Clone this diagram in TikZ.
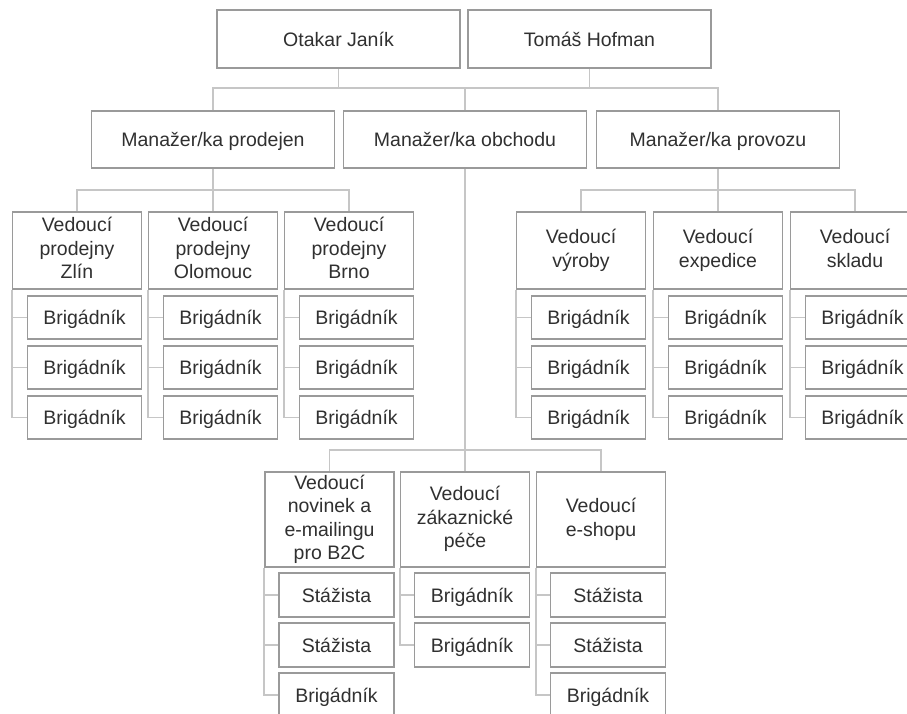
\documentclass[tikz,border=0pt]{standalone}
\usepackage{fontspec}
\setmainfont{Liberation Sans}
\usepackage{tikz}
\definecolor{ramecek}{HTML}{9A9A9A}
\definecolor{spoj}{HTML}{C6C6C6}
\definecolor{pismo}{HTML}{303030}

\begin{document}
\begin{tikzpicture}[x=1pt, y=-1pt,
    box/.style={draw=ramecek, line width=1.8pt, fill=white, inner sep=0pt,
      text=pismo, align=center, font=\fontsize{19.5}{23.5}\selectfont,
      execute at begin node={\rule{0pt}{18.5pt}},
      execute at end node={\rule[-4.5pt]{0pt}{4.5pt}}},
    top/.style={box, minimum width=243, minimum height=58},
    vedouci/.style={box, minimum width=129, minimum height=77},
    vedouci2/.style={box, minimum width=129, minimum height=95},
    sub/.style={box, minimum width=114, minimum height=43},
    sub2/.style={box, minimum width=115, minimum height=44},
    link/.style={draw=spoj, line width=1.8pt}]
  \useasboundingbox (0,0) rectangle (907,713);
  \clip (0,0) rectangle (907,713);

  % Spoje.
  \path[link] (213,111) -- ++(0,-23) -| (718,111);
  \path[link] (338.5,68) -- (338.5,88);
  \path[link] (589.5,68) -- (589.5,88);
  \path[link] (465,88) -- (465,472);
  \path[link] (77,212) -- ++(0,-22) -| (349,212);
  \path[link] (213,168) -- (213,212);
  \path[link] (581,212) -- ++(0,-22) -| (855,212);
  \path[link] (718,168) -- (718,212);
  \path[link] (329.5,472) -- ++(0,-22) -| (601,472);

  % Vedeni.
  \node[top] (ota) at (338.5,39) {Otakar Janík};
  \node[top] (tom) at (589.5,39) {Tomáš Hofman};

  % Manazeri.
  \node[top, minimum height=57] (prod) at (213,139.5) {Manažer/ka prodejen};
  \node[top, minimum height=57] (obch) at (465,139.5) {Manažer/ka obchodu};
  \node[top, minimum height=57] (prov) at (718,139.5) {Manažer/ka provozu};

  % Prodejny.
  \node[vedouci] (zlin) at (77,250.5) {Vedoucí\\prodejny\\Zlín};
  \node[vedouci] (olom) at (213,250.5) {Vedoucí\\prodejny\\Olomouc};
  \node[vedouci] (brno) at (349,250.5) {Vedoucí\\prodejny\\Brno};

  % Provoz.
  \node[vedouci] (vyr) at (581,250.5) {Vedoucí\\výroby};
  \node[vedouci] (exp) at (718,250.5) {Vedoucí\\expedice};
  \node[vedouci] (skl) at (855,250.5) {Vedoucí\\skladu};

  % Obchod.
  \node[vedouci2] (nov) at (329.5,519.5) {Vedoucí\\novinek a\\e-mailingu\\pro B2C};
  \node[vedouci2] (zak) at (465,519.5) {Vedoucí\\zákaznické\\péče};
  \node[vedouci2] (esh) at (601,519.5) {Vedoucí\\e-shopu};

  % Brigadnici.
  \node[sub] (zlin1) at (84.5,317.5) {Brigádník};
  \node[sub] (zlin2) at (84.5,367.5) {Brigádník};
  \node[sub] (zlin3) at (84.5,417.5) {Brigádník};
  \node[sub] (olom1) at (220.5,317.5) {Brigádník};
  \node[sub] (olom2) at (220.5,367.5) {Brigádník};
  \node[sub] (olom3) at (220.5,417.5) {Brigádník};
  \node[sub] (brno1) at (356.5,317.5) {Brigádník};
  \node[sub] (brno2) at (356.5,367.5) {Brigádník};
  \node[sub] (brno3) at (356.5,417.5) {Brigádník};
  \node[sub] (vyr1) at (588.5,317.5) {Brigádník};
  \node[sub] (vyr2) at (588.5,367.5) {Brigádník};
  \node[sub] (vyr3) at (588.5,417.5) {Brigádník};
  \node[sub] (exp1) at (725.5,317.5) {Brigádník};
  \node[sub] (exp2) at (725.5,367.5) {Brigádník};
  \node[sub] (exp3) at (725.5,417.5) {Brigádník};
  \node[sub] (skl1) at (862.5,317.5) {Brigádník};
  \node[sub] (skl2) at (862.5,367.5) {Brigádník};
  \node[sub] (skl3) at (862.5,417.5) {Brigádník};

  \node[sub2] (nov1) at (336.5,595) {Stážista};
  \node[sub2] (nov2) at (336.5,645) {Stážista};
  \node[sub2] (nov3) at (336.5,695) {Brigádník};
  \node[sub2] (zak1) at (472,595) {Brigádník};
  \node[sub2] (zak2) at (472,645) {Brigádník};
  \node[sub2] (esh1) at (608,595) {Stážista};
  \node[sub2] (esh2) at (608,645) {Stážista};
  \node[sub2] (esh3) at (608,695) {Brigádník};

  % Zavorky.
  \draw[link] (zlin.south west) |- (zlin3.west) (zlin1.west) -- (zlin1.west -| zlin.west) (zlin2.west) -- (zlin2.west -| zlin.west);
  \draw[link] (olom.south west) |- (olom3.west) (olom1.west) -- (olom1.west -| olom.west) (olom2.west) -- (olom2.west -| olom.west);
  \draw[link] (brno.south west) |- (brno3.west) (brno1.west) -- (brno1.west -| brno.west) (brno2.west) -- (brno2.west -| brno.west);
  \draw[link] (vyr.south west) |- (vyr3.west) (vyr1.west) -- (vyr1.west -| vyr.west) (vyr2.west) -- (vyr2.west -| vyr.west);
  \draw[link] (exp.south west) |- (exp3.west) (exp1.west) -- (exp1.west -| exp.west) (exp2.west) -- (exp2.west -| exp.west);
  \draw[link] (skl.south west) |- (skl3.west) (skl1.west) -- (skl1.west -| skl.west) (skl2.west) -- (skl2.west -| skl.west);
  \draw[link] (nov.south west) |- (nov3.west) (nov1.west) -- (nov1.west -| nov.west) (nov2.west) -- (nov2.west -| nov.west);
  \draw[link] (zak.south west) |- (zak2.west) (zak1.west) -- (zak1.west -| zak.west);
  \draw[link] (esh.south west) |- (esh3.west) (esh1.west) -- (esh1.west -| esh.west) (esh2.west) -- (esh2.west -| esh.west);
\end{tikzpicture}
\end{document}
